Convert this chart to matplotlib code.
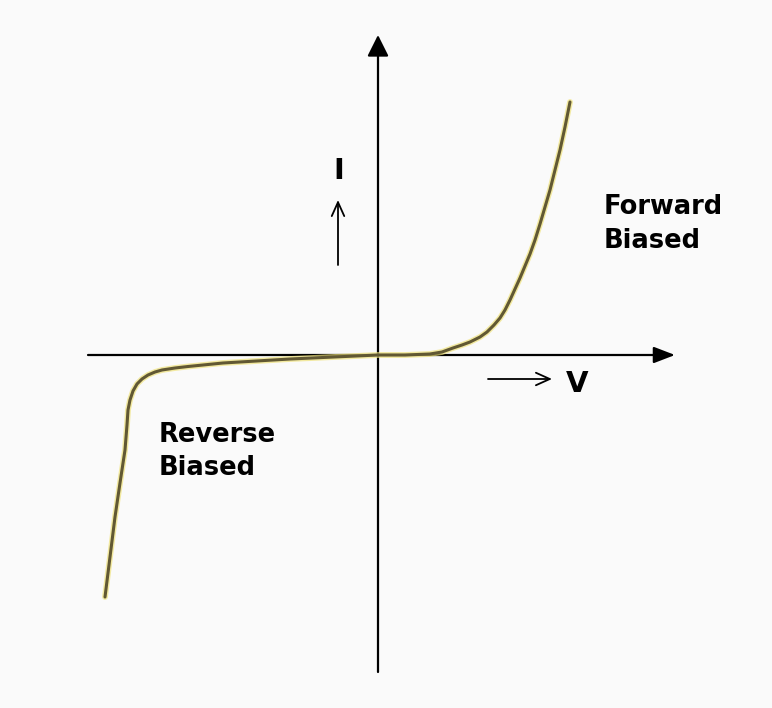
import matplotlib
matplotlib.use("Agg")
import matplotlib.pyplot as plt

# Diode I-V characteristic (arbitrary units)
V_curve = [-2.73, -2.68, -2.63, -2.58, -2.53, -2.51, -2.50, -2.48, -2.45, -2.41, -2.36,
           -2.30, -2.23, -2.16, -2.03, -1.90, -1.55, -0.88, 0.0, 0.27, 0.52, 0.64, 0.75,
           0.84, 0.92, 1.02, 1.09, 1.16, 1.22, 1.27, 1.32, 1.37, 1.42, 1.47, 1.52, 1.57,
           1.62, 1.67, 1.72, 1.77, 1.82, 1.87, 1.92]
I_curve = [-2.42, -2.02, -1.62, -1.28, -0.95, -0.70, -0.55, -0.45, -0.36, -0.29, -0.24,
           -0.20, -0.17, -0.15, -0.13, -0.115, -0.08, -0.04, 0.0, 0.0, 0.01, 0.03, 0.07,
           0.10, 0.13, 0.18, 0.23, 0.30, 0.37, 0.45, 0.55, 0.66, 0.77, 0.89, 1.01, 1.15,
           1.31, 1.48, 1.65, 1.85, 2.05, 2.28, 2.53]

axis_v_range = [-2.90, 2.97]
axis_i_range = [-3.17, 3.20]
labels = {"fwd": ["Forward", "Biased"], "rev": ["Reverse", "Biased"], "I": "I", "V": "V"}

fig = plt.figure(figsize=(7.72, 7.08), dpi=100)
fig.patch.set_facecolor("#fafafa")
ax = fig.add_axes([0, 0, 1, 1])
ax.set_facecolor("#fafafa")
ax.set_xlim(-3.78, 3.94)
ax.set_ylim(-3.53, 3.55)
ax.axis("off")

# Axes with arrowheads
ax.annotate("", xy=(axis_v_range[1], 0), xytext=(axis_v_range[0], 0),
            arrowprops=dict(arrowstyle="-|>,head_length=1.3,head_width=0.5",
                            lw=1.6, color="black", shrinkA=0, shrinkB=0))
ax.annotate("", xy=(0, axis_i_range[1]), xytext=(0, axis_i_range[0]),
            arrowprops=dict(arrowstyle="-|>,head_length=1.3,head_width=0.65",
                            lw=1.6, color="black", shrinkA=0, shrinkB=0))

# Curve with yellowish glow
ax.plot(V_curve, I_curve, color="#efe27a", lw=4.2, alpha=0.7, solid_capstyle="round",
        solid_joinstyle="round", zorder=3)
ax.plot(V_curve, I_curve, color="#615833", lw=2.2, solid_capstyle="round",
        solid_joinstyle="round", zorder=4)

font = dict(family="DejaVu Sans", fontweight="bold", color="black")
ax.text(2.26, 1.41, labels["fwd"][0], fontsize=18.5, ha="left", va="baseline", **font)
ax.text(2.26, 1.07, labels["fwd"][1], fontsize=18.5, ha="left", va="baseline", **font)
ax.text(-2.19, -0.87, labels["rev"][0], fontsize=18.5, ha="left", va="baseline", **font)
ax.text(-2.19, -1.20, labels["rev"][1], fontsize=18.5, ha="left", va="baseline", **font)

ax.text(-0.39, 1.76, labels["I"], fontsize=21, ha="center", va="baseline", **font)
ax.text(1.99, -0.37, labels["V"], fontsize=21, ha="center", va="baseline", **font)

# Small direction arrows
ax.annotate("", xy=(-0.40, 1.55), xytext=(-0.40, 0.90),
            arrowprops=dict(arrowstyle="->,head_length=1.0,head_width=0.45",
                            lw=1.3, color="black", shrinkA=0, shrinkB=0))
ax.annotate("", xy=(1.74, -0.24), xytext=(1.10, -0.24),
            arrowprops=dict(arrowstyle="->,head_length=1.0,head_width=0.45",
                            lw=1.3, color="black", shrinkA=0, shrinkB=0))

fig.savefig("out.png", dpi=100, facecolor=fig.get_facecolor())
